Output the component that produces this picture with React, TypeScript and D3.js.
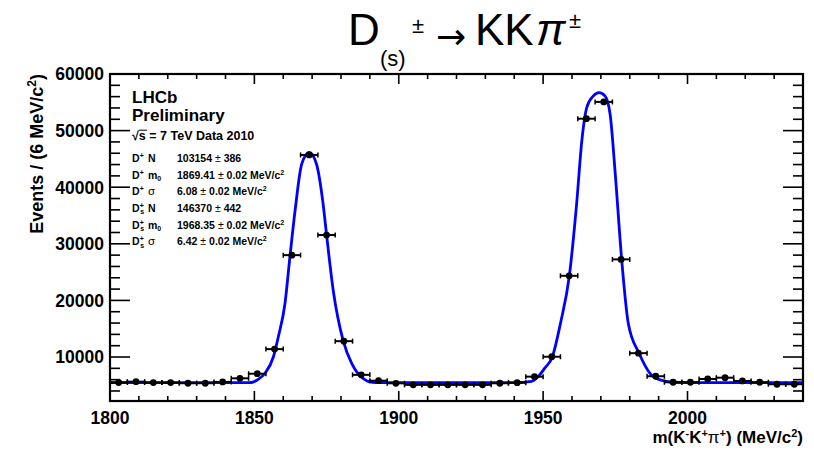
import React from "react";
import * as d3 from "d3";

// ---------- data ----------
const binCenters = [
  1803, 1809, 1815, 1821, 1827, 1833, 1839, 1845, 1851, 1857,
  1863, 1869, 1875, 1881, 1887, 1893, 1899, 1905, 1911, 1917,
  1923, 1929, 1935, 1941, 1947, 1953, 1959, 1965, 1971, 1977,
  1983, 1989, 1995, 2001, 2007, 2013, 2019, 2025, 2031, 2037,
];
const binHalfWidth = 3;
const counts = [
  5500, 5650, 5480, 5480, 5370, 5370, 5600, 6240, 7050, 11400,
  28000, 45700, 31550, 12800, 6850, 5820, 5360, 5080, 5080, 5080,
  5080, 5080, 5370, 5470, 6530, 10050, 24350, 52100, 55070, 27250,
  10680, 6600, 5540, 5540, 6120, 6350, 5770, 5540, 5190, 5190,
];

const fitMass = [
  1800, 1810, 1820, 1830, 1840, 1847, 1849, 1851, 1853.7, 1856.6,
  1858.3, 1860.6, 1862.3, 1864.1, 1866.4, 1869.0, 1871.5, 1873.8, 1875, 1877.3,
  1880.8, 1883.7, 1886, 1888, 1890, 1892, 1900, 1920, 1940, 1946,
  1948, 1950.5, 1953.2, 1956, 1959.1, 1961.6, 1963.4, 1965.1, 1967.4, 1969.4,
  1971.4, 1973.2, 1974.9, 1977.2, 1979.5, 1983.2, 1987, 1990.5, 1995, 2000,
  2020, 2040,
];
const fitCounts = [
  5480, 5480, 5470, 5460, 5460, 5460, 5500, 5950, 7130, 10050,
  13570, 19450, 27650, 35880, 44100, 46140, 44100, 37060, 31600, 21800,
  12800, 8880, 7000, 6100, 5600, 5470, 5460, 5450, 5460, 5700,
  6400, 8000, 10050, 15930, 24430, 37060, 48200, 54060, 56130, 56700,
  56130, 52900, 42900, 27250, 15930, 10700, 7130, 5950, 5540, 5470,
  5470, 5470,
];

const xTicks = [1800, 1850, 1900, 1950, 2000];
const yTicks = [10000, 20000, 30000, 40000, 50000, 60000];
const xDomain = [1800, 2040];
const yDomain = [2230, 60000];

const rowSpecies = ["D", "D", "D", "Ds", "Ds", "Ds"];
const rowParam = ["N", "m0", "sigma", "N", "m0", "sigma"];
const rowValue = ["103154", "1869.41", "6.08", "146370", "1968.35", "6.42"];
const rowError = ["386", "0.02", "0.02", "442", "0.02", "0.02"];
const rowUnit = [false, true, true, false, true, true];

// ---------- layout ----------
const W = 814;
const H = 450;
const L = 110;
const R = 803;
const T = 74;
const B = 401;
const FONT = "'Liberation Sans', Arial, Helvetica, sans-serif";

export default function App() {
  const x = d3.scaleLinear().domain(xDomain).range([L, R]);
  const y = d3.scaleLinear().domain(yDomain).range([B, T]);

  const xMinor = d3.range(xDomain[0], xDomain[1] + 0.1, 10);
  const yMinor = d3.range(4000, yDomain[1] + 0.1, 2000);

  const line = d3
    .line<number>()
    .x((_, i) => x(fitMass[i]))
    .y((d) => y(d))
    .curve(d3.curveMonotoneX);

  const rowY0 = 162.3;
  const rowDy = 16.55;
  const lx = 132;
  const vx = 177;

  return (
    <svg
      width={W}
      height={H}
      style={{ position: "absolute", left: 0, top: 0, background: "#fff" }}
      fontFamily={FONT}
    >
      <rect x={0} y={0} width={W} height={H} fill="#fff" />
      <defs>
        <clipPath id="frame">
          <rect x={L} y={T} width={R - L} height={B - T} />
        </clipPath>
      </defs>

      {/* title */}
      <g fill="#000">
        <text x={348} y={45} fontSize={44}>D</text>
        <text x={380} y={66} fontSize={22}>(s)</text>
        <text x={412} y={33} fontSize={22}>±</text>
        <text x={436} y={49} fontSize={36} fontFamily="'DejaVu Sans', sans-serif">→</text>
        <text x={475} y={45} fontSize={44}>KK</text>
        <text x={536} y={45} fontSize={44} fontStyle="italic">π</text>
        <text x={569} y={28} fontSize={22}>±</text>
      </g>

      {/* fit curve */}
      <path
        d={line(fitCounts) || ""}
        fill="none"
        stroke="#0000ff"
        strokeWidth={2.8}
        clipPath="url(#frame)"
      />

      {/* data points */}
      <g stroke="#000" fill="#000">
        {binCenters.map((c, i) => {
          const cx = x(c);
          const cy = y(counts[i]);
          const x0 = x(c - binHalfWidth);
          const x1 = x(c + binHalfWidth);
          const e = Math.sqrt(counts[i]);
          return (
            <g key={c}>
              <line x1={x0} x2={x1} y1={cy} y2={cy} strokeWidth={2} />
              <line x1={x0} x2={x0} y1={cy - 2.5} y2={cy + 2.5} strokeWidth={1.5} />
              <line x1={x1} x2={x1} y1={cy - 2.5} y2={cy + 2.5} strokeWidth={1.5} />
              <line x1={cx} x2={cx} y1={y(counts[i] - e)} y2={y(counts[i] + e)} strokeWidth={2} />
              <circle cx={cx} cy={cy} r={3.4} stroke="none" />
            </g>
          );
        })}
      </g>

      {/* axes ticks */}
      <g stroke="#000" strokeWidth={1.6}>
        {xMinor.map((v) => {
          const major = xTicks.includes(v);
          const len = major ? 10 : 5;
          return (
            <g key={"xt" + v}>
              <line x1={x(v)} x2={x(v)} y1={B} y2={B - len} />
              <line x1={x(v)} x2={x(v)} y1={T} y2={T + len} />
            </g>
          );
        })}
        {yMinor.map((v) => {
          const major = yTicks.includes(v);
          const len = major ? 20 : 10;
          return (
            <g key={"yt" + v}>
              <line x1={L} x2={L + len} y1={y(v)} y2={y(v)} />
              <line x1={R} x2={R - len} y1={y(v)} y2={y(v)} />
            </g>
          );
        })}
      </g>

      {/* frame */}
      <rect x={L} y={T} width={R - L} height={B - T} fill="none" stroke="#000" strokeWidth={2.2} />

      {/* tick labels */}
      <g fontWeight="bold" fontSize={17.5} fill="#000">
        {xTicks.map((v) => (
          <text key={"xl" + v} x={x(v)} y={424} textAnchor="middle">
            {v}
          </text>
        ))}
        {yTicks.map((v) => (
          <text key={"yl" + v} x={104} y={y(v) + 6.3} textAnchor="end">
            {v}
          </text>
        ))}
      </g>

      {/* axis titles */}
      <text x={803} y={443} textAnchor="end" fontWeight="bold" fontSize={17} fill="#000">
        m(K<tspan dy={-6} fontSize={11}>-</tspan>
        <tspan dy={6}>K</tspan>
        <tspan dy={-6} fontSize={11}>+</tspan>
        <tspan dy={6} fontWeight="normal">π</tspan>
        <tspan dy={-6} fontSize={11}>+</tspan>
        <tspan dy={6}>) (MeV/c</tspan>
        <tspan dy={-6} fontSize={11}>2</tspan>
        <tspan dy={6}>)</tspan>
      </text>
      <text
        transform={`translate(43,${T}) rotate(-90)`}
        textAnchor="end"
        fontWeight="bold"
        fontSize={18}
        fill="#000"
      >
        Events / (6 MeV/c<tspan dy={-7} fontSize={12}>2</tspan>
        <tspan dy={7}>)</tspan>
      </text>

      {/* LHCb labels */}
      <g fill="#000" fontWeight="bold">
        <text x={lx} y={102.5} fontSize={17}>LHCb</text>
        <text x={lx} y={120.5} fontSize={17}>Preliminary</text>
        <text x={lx} y={140} fontSize={12.5}>
          √s = 7 TeV Data 2010
        </text>
        <line x1={lx + 7} x2={lx + 15} y1={130.2} y2={130.2} stroke="#000" strokeWidth={1} />
      </g>

      {/* fit parameter rows */}
      <g fill="#000" fontSize={10.5}>
        {rowSpecies.map((sp, i) => {
          const yy = rowY0 + i * rowDy;
          const p = rowParam[i];
          return (
            <g key={"row" + i}>
              <text x={lx} y={yy} fontWeight="bold">D</text>
              <text x={lx + 7.8} y={yy - 4} fontWeight="bold" fontSize={7}>+</text>
              {sp === "Ds" && (
                <text x={lx + 8.2} y={yy + 2.5} fontWeight="bold" fontSize={7}>s</text>
              )}
              {p === "N" && (
                <text x={lx + 16} y={yy} fontWeight="bold">N</text>
              )}
              {p === "m0" && (
                <text x={lx + 16} y={yy} fontWeight="bold">
                  m<tspan dy={2.5} fontSize={7}>0</tspan>
                </text>
              )}
              {p === "sigma" && (
                <text x={lx + 16} y={yy} fontSize={11.5}>σ</text>
              )}
              <text x={vx} y={yy} fontWeight="bold">
                {rowValue[i]}
                <tspan fontWeight="normal">{" ± "}</tspan>
                {rowError[i]}
                {rowUnit[i] ? " MeV/c" : ""}
                {rowUnit[i] && (
                  <tspan dy={-4} fontSize={7}>2</tspan>
                )}
              </text>
            </g>
          );
        })}
      </g>
    </svg>
  );
}
